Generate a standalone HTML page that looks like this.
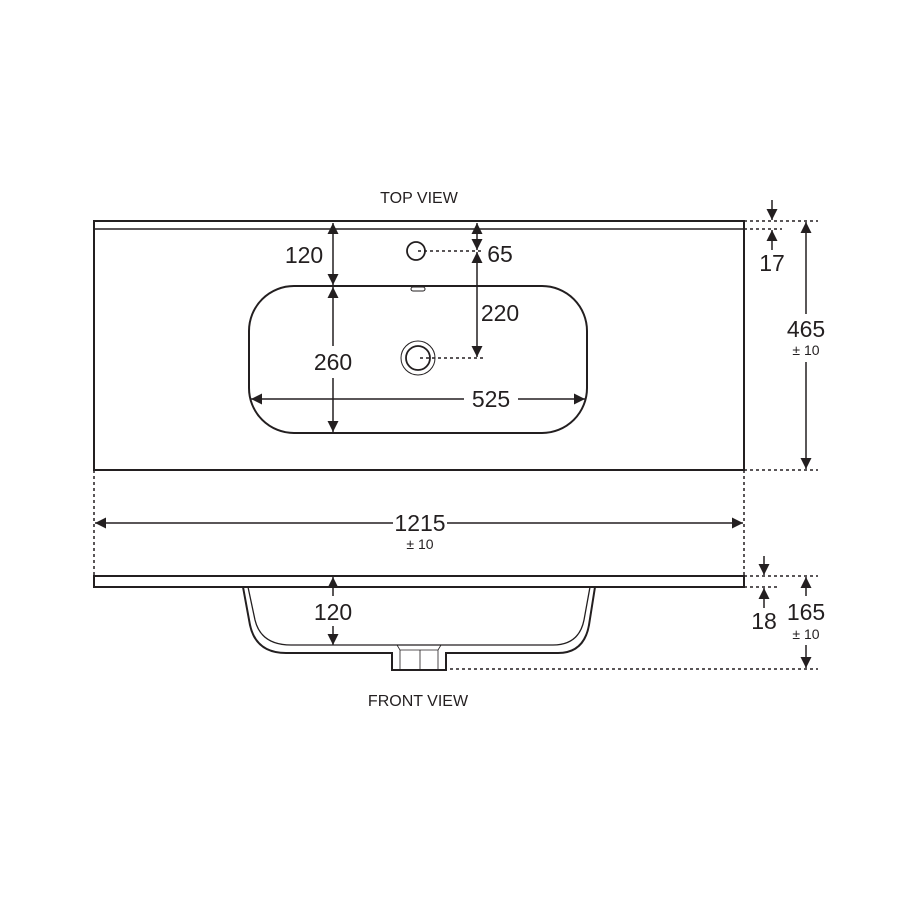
<!DOCTYPE html>
<html><head><style>body{margin:0;background:#fff}svg{display:block}</style></head><body>
<svg width="900" height="900" viewBox="0 0 900 900" xmlns="http://www.w3.org/2000/svg" font-family="Liberation Sans, sans-serif" fill="none" stroke="#231f20">
<defs>
<marker id="a" viewBox="0 0 10 10" refX="10" refY="5" markerWidth="12" markerHeight="11" orient="auto-start-reverse" markerUnits="userSpaceOnUse"><path d="M0,0 L10,5 L0,10 z" fill="#231f20" stroke="none"/></marker>
</defs>
<g fill="#231f20" stroke="none" text-anchor="middle">
<text x="419" y="203" font-size="16">TOP VIEW</text>
<text x="418" y="706" font-size="16">FRONT VIEW</text>
</g>
<rect x="94" y="221" width="650" height="249" stroke-width="2"/>
<line x1="94" y1="229" x2="744" y2="229" stroke-width="1.5"/>
<rect x="249" y="286" width="338" height="147" rx="45" stroke-width="2"/>
<circle cx="416" cy="251" r="9" stroke-width="1.8"/>
<rect x="411" y="287" width="14" height="4" rx="2" stroke-width="1"/>
<circle cx="418" cy="358" r="12" stroke-width="1.8"/>
<circle cx="418" cy="358" r="17" stroke-width="1"/>
<g stroke-width="1.5" stroke-dasharray="3,3">
<line x1="418" y1="251" x2="482" y2="251"/>
<line x1="420" y1="358" x2="484" y2="358"/>
<line x1="744" y1="221" x2="818" y2="221"/>
<line x1="744" y1="229" x2="782" y2="229"/>
<line x1="744" y1="470" x2="818" y2="470"/>
<line x1="94" y1="470" x2="94" y2="576"/>
<line x1="744" y1="470" x2="744" y2="576"/>
<line x1="744" y1="576" x2="818" y2="576"/>
<line x1="744" y1="587" x2="778" y2="587"/>
<line x1="450" y1="669" x2="818" y2="669"/>
</g>
<g stroke-width="1.5">
<line x1="333" y1="223" x2="333" y2="285" marker-start="url(#a)" marker-end="url(#a)"/>
<line x1="333" y1="287" x2="333" y2="346" marker-start="url(#a)"/>
<line x1="333" y1="378" x2="333" y2="432" marker-end="url(#a)"/>
<line x1="477" y1="223" x2="477" y2="250" marker-start="url(#a)" marker-end="url(#a)"/>
<line x1="477" y1="252" x2="477" y2="357" marker-start="url(#a)" marker-end="url(#a)"/>
<line x1="251" y1="399" x2="464" y2="399" marker-start="url(#a)"/>
<line x1="518" y1="399" x2="585" y2="399" marker-end="url(#a)"/>
<line x1="772" y1="200" x2="772" y2="220" marker-end="url(#a)"/>
<line x1="772" y1="250" x2="772" y2="230" marker-end="url(#a)"/>
<line x1="806" y1="222" x2="806" y2="314" marker-start="url(#a)"/>
<line x1="806" y1="362" x2="806" y2="469" marker-end="url(#a)"/>
<line x1="95" y1="523" x2="393" y2="523" marker-start="url(#a)"/>
<line x1="447" y1="523" x2="743" y2="523" marker-end="url(#a)"/>
<line x1="333" y1="577" x2="333" y2="596" marker-start="url(#a)"/>
<line x1="333" y1="626" x2="333" y2="645" marker-end="url(#a)"/>
<line x1="764" y1="556" x2="764" y2="575" marker-end="url(#a)"/>
<line x1="764" y1="608" x2="764" y2="588" marker-end="url(#a)"/>
<line x1="806" y1="577" x2="806" y2="596" marker-start="url(#a)"/>
<line x1="806" y1="645" x2="806" y2="668" marker-end="url(#a)"/>
</g>
<rect x="94" y="576" width="650" height="11" stroke-width="2"/>
<path d="M243,587 L250,625 Q256,653 286,653 L392,653 L392,670 L446,670 L446,653 L558,653 Q584,653 589,625 L595,587" stroke-width="2"/>
<path d="M248,587 L255,620 Q261,645 291,645 L553,645 Q579,645 584,620 L590,587" stroke-width="1.3"/>
<path d="M397,645 L400,650 L400,670 M441,645 L438,650 L438,670 M400,650 L438,650 M420,650 L420,670" stroke-width="0.8"/>
<g fill="#231f20" stroke="none" text-anchor="middle" font-size="23">
<text x="304" y="263">120</text>
<text x="333" y="370">260</text>
<text x="500" y="262">65</text>
<text x="500" y="321">220</text>
<text x="491" y="407">525</text>
<text x="772" y="271">17</text>
<text x="806" y="337">465</text>
<text x="806" y="355" font-size="14">± 10</text>
<text x="420" y="531">1215</text>
<text x="420" y="549" font-size="14">± 10</text>
<text x="333" y="620">120</text>
<text x="764" y="629">18</text>
<text x="806" y="620">165</text>
<text x="806" y="639" font-size="14">± 10</text>
</g>
</svg>
</body></html>
